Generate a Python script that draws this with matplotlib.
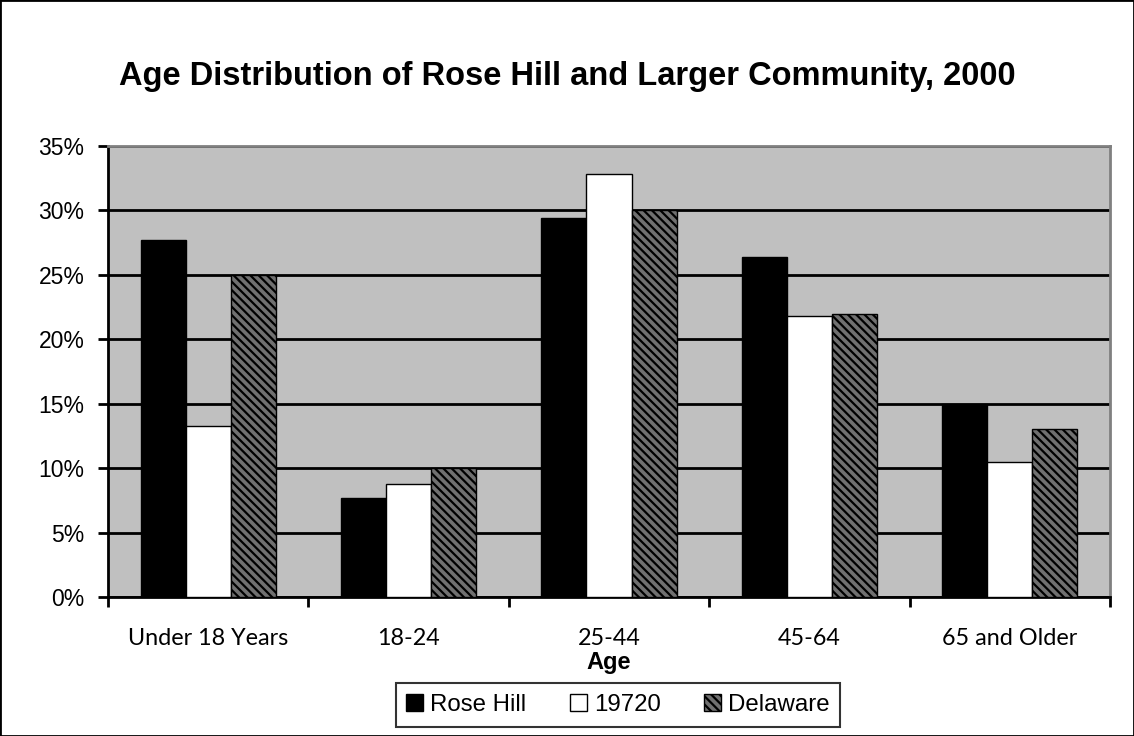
import numpy as np
import matplotlib.pyplot as plt
from matplotlib.patches import Rectangle
from matplotlib.ticker import FuncFormatter, FixedLocator

categories = ["Under 18 Years", "18-24", "25-44", "45-64", "65 and Older"]
rose_hill = [27.7, 7.7, 29.4, 26.4, 15.0]
zip_19720 = [13.3, 8.8, 32.8, 21.8, 10.5]
delaware = [25.0, 10.0, 30.0, 22.0, 13.0]
series_names = ["Rose Hill", "19720", "Delaware"]

W, H = 1134, 736
plt.rcParams['hatch.linewidth'] = 1.6
fig = plt.figure(figsize=(W/100, H/100), dpi=100)
fig.patches.append(Rectangle((0, 0), 1, 1, transform=fig.transFigure,
                             fill=False, edgecolor='black', linewidth=2))

ax = fig.add_axes([108/W, (H-597)/H, 1002/W, 451/H])
ax.set_facecolor('#c0c0c0')

x = np.arange(len(categories))
w = 0.225
ax.bar(x - w, rose_hill, w, color='black', edgecolor='black', linewidth=1, zorder=3,
       label=series_names[0])
ax.bar(x, zip_19720, w, color='white', edgecolor='black', linewidth=1, zorder=3,
       label=series_names[1])
ax.bar(x + w, delaware, w, color='#707070', edgecolor='black', linewidth=1, zorder=3,
       hatch='\\\\\\\\', label=series_names[2])

ax.set_xlim(-0.5, len(categories) - 0.5)
ax.set_ylim(0, 35)
ax.set_yticks(np.arange(0, 36, 5))
ax.yaxis.set_major_formatter(FuncFormatter(lambda v, p: f"{int(v)}%"))
ax.yaxis.grid(True, color='black', linewidth=2)
ax.set_axisbelow(True)

ax.set_xticks(x)
ax.set_xticklabels(categories, fontfamily='Lato', fontsize=16.8)
ax.xaxis.set_minor_locator(FixedLocator(np.arange(-0.5, len(categories), 1)))
ax.tick_params(axis='x', which='major', length=0, pad=22)
ax.tick_params(axis='x', which='minor', length=7, width=2, direction='out')
ax.tick_params(axis='y', length=7, width=2, direction='out', labelsize=16.5, pad=10)
for lbl in ax.get_yticklabels():
    lbl.set_fontfamily('Liberation Sans')

ax.spines['left'].set_linewidth(2)
ax.spines['bottom'].set_linewidth(2)
ax.spines['top'].set_color('#808080')
ax.spines['top'].set_linewidth(2)
ax.spines['right'].set_color('#808080')
ax.spines['right'].set_linewidth(2)

fig.text(609/W, 1 - 663/H, "Age", fontfamily='Liberation Sans', fontsize=17,
         fontweight='bold', ha='center', va='center')
fig.text(567/W, 1 - 76/H, "Age Distribution of Rose Hill and Larger Community, 2000",
         fontfamily='Liberation Sans', fontsize=23.5, fontweight='bold',
         ha='center', va='center')

leg = ax.legend(loc='center', bbox_to_anchor=(618/W, 1 - 705/H), bbox_transform=fig.transFigure,
                ncol=3, frameon=True, fancybox=False, edgecolor='black',
                prop={'family': 'Liberation Sans', 'size': 17.3},
                handlelength=0.7, handleheight=0.7, handletextpad=0.3, columnspacing=1.8,
                borderpad=0.45, borderaxespad=0)
leg.get_frame().set_linewidth(1.5)

fig.savefig("out.png", dpi=100)
